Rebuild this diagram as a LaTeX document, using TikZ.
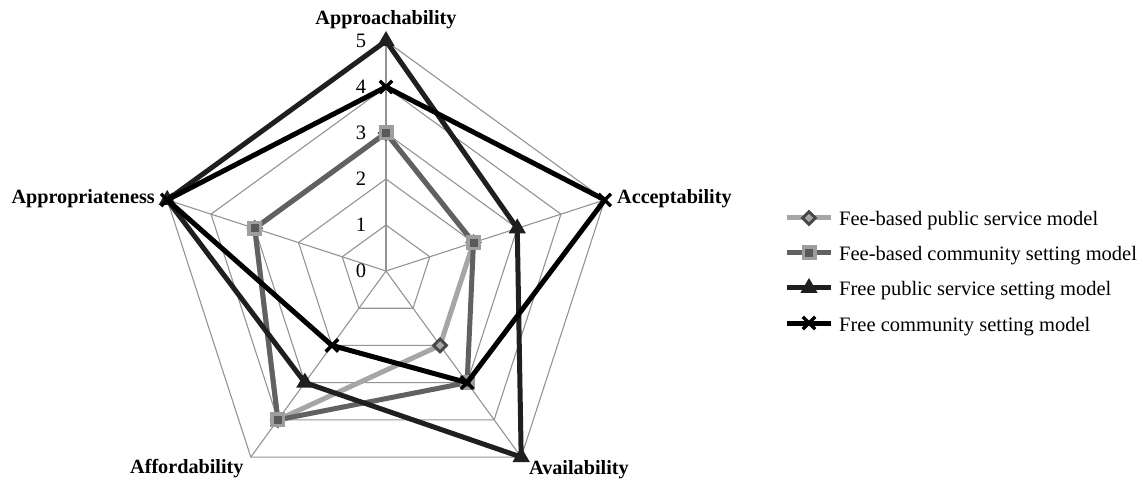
\documentclass[tikz,border=0pt]{standalone}
\usepackage{fontspec}
\setmainfont{Liberation Serif}
\usetikzlibrary{shapes.geometric,shapes.misc}
\begin{document}
\begin{tikzpicture}[x=1pt,y=1pt,
  gridline/.style={draw=black!42, line width=1.1pt},
  axlabel/.style={font=\fontsize{20.2}{24}\selectfont\bfseries, inner sep=0pt},
  numlabel/.style={font=\fontsize{20.5}{24}\selectfont, inner sep=0pt},
  legtext/.style={font=\fontsize{20.5}{24}\selectfont, inner sep=0pt, anchor=base west},
  serA/.style={draw=black!35, line width=5pt, line join=round},
  serB/.style={draw=black!62, line width=5pt, line join=round},
  serC/.style={draw=black!88, line width=5pt, line join=round},
  serD/.style={draw=black, line width=5pt, line join=round},
  dmark/.style={diamond, aspect=1, minimum size=14pt, inner sep=0pt, fill=black!35, draw=black!72, line width=2.8pt},
  smark/.style={rectangle, minimum size=11.5pt, inner sep=0pt, fill=black!65, draw=black!38, line width=3.5pt},
  tmark/.style={regular polygon, regular polygon sides=3, minimum size=20pt, inner sep=0pt, fill=black!88},
  xmark/.style={cross out, minimum size=9pt, inner sep=0pt, draw=black, line width=3.4pt},
]
\useasboundingbox (0,0) rectangle (1144,480);
\fill[white] (0,0) rectangle (1144,480);
\begin{scope}[shift={(386,209)}]
  % grid
  \foreach \r in {46,92,138,184,230}
    \draw[gridline] (90:\r) -- (18:\r) -- (-54:\r) -- (-126:\r) -- (162:\r) -- cycle;
  \foreach \a in {90,18,-54,-126,162}
    \draw[gridline] (0,0) -- (\a:230);
  % scale numbers
  \foreach \v [evaluate=\v as \yy using \v*46] in {0,...,5}
    \node[numlabel] (n\v) at (-25,\yy) {\v};
  % data points
  \coordinate (a1) at (90:138); \coordinate (a2) at (18:92); \coordinate (a3) at (-54:92);
  \coordinate (a4) at (-126:184); \coordinate (a5) at (162:138);
  \coordinate (b1) at (90:138); \coordinate (b2) at (18:92); \coordinate (b3) at (-54:138);
  \coordinate (b4) at (-126:184); \coordinate (b5) at (162:138);
  \coordinate (c1) at (90:230); \coordinate (c2) at (18:138); \coordinate (c3) at (-54:230);
  \coordinate (c4) at (-126:138); \coordinate (c5) at (162:230);
  \coordinate (d1) at (90:184); \coordinate (d2) at (18:230); \coordinate (d3) at (-54:138);
  \coordinate (d4) at (-126:92); \coordinate (d5) at (162:230);
  % series
  \draw[serA] (a1) -- (a2) -- (a3) -- (a4) -- (a5) -- cycle;
  \foreach \p in {a1,a2,a3,a4,a5} \node[dmark] at (\p) {};
  \draw[serB] (b1) -- (b2) -- (b3) -- (b4) -- (b5) -- cycle;
  \foreach \p in {b1,b2,b3,b4,b5} \node[smark] at (\p) {};
  \draw[serC] (c1) -- (c2) -- (c3) -- (c4) -- (c5) -- cycle;
  \foreach \p in {c1,c2,c3,c4,c5} \node[tmark] at (\p) {};
  \draw[serD] (d1) -- (d2) -- (d3) -- (d4) -- (d5) -- cycle;
  \foreach \p in {d1,d2,d3,d4,d5} \node[xmark] at (\p) {};
\end{scope}
% axis labels
\node[axlabel, anchor=base] (lapp) at (386,455) {Approachability};
\node[axlabel, anchor=base west] (lacc) at (617,276) {Acceptability};
\node[axlabel, anchor=base east] (lapr) at (155,276) {Appropriateness};
\node[axlabel, anchor=base west] (laff) at (130,7) {Affordability};
\node[axlabel, anchor=base west] (lava) at (529,6) {Availability};
% legend
\coordinate (g1a) at (787,262); \coordinate (g1b) at (831,262); \coordinate (g1m) at (809,262);
\coordinate (g2a) at (787,227); \coordinate (g2b) at (831,227); \coordinate (g2m) at (809,227);
\coordinate (g3a) at (787,192); \coordinate (g3b) at (831,192); \coordinate (g3m) at (809,192);
\coordinate (g4a) at (787,157); \coordinate (g4b) at (831,157); \coordinate (g4m) at (809,157);
\draw[serA] (g1a) -- (g1b); \node[dmark] at (g1m) {};
\draw[serB] (g2a) -- (g2b); \node[smark] at (g2m) {};
\draw[serC] (g3a) -- (g3b); \node[tmark] at (g3m) {};
\draw[serD] (g4a) -- (g4b); \node[xmark] at (g4m) {};
\node[legtext] (t1) at (839,254) {Fee-based public service model};
\node[legtext] (t2) at (839,219) {Fee-based community setting model};
\node[legtext] (t3) at (839,184) {Free public service setting model};
\node[legtext] (t4) at (839,149) {Free community setting model};
\end{tikzpicture}
\end{document}
